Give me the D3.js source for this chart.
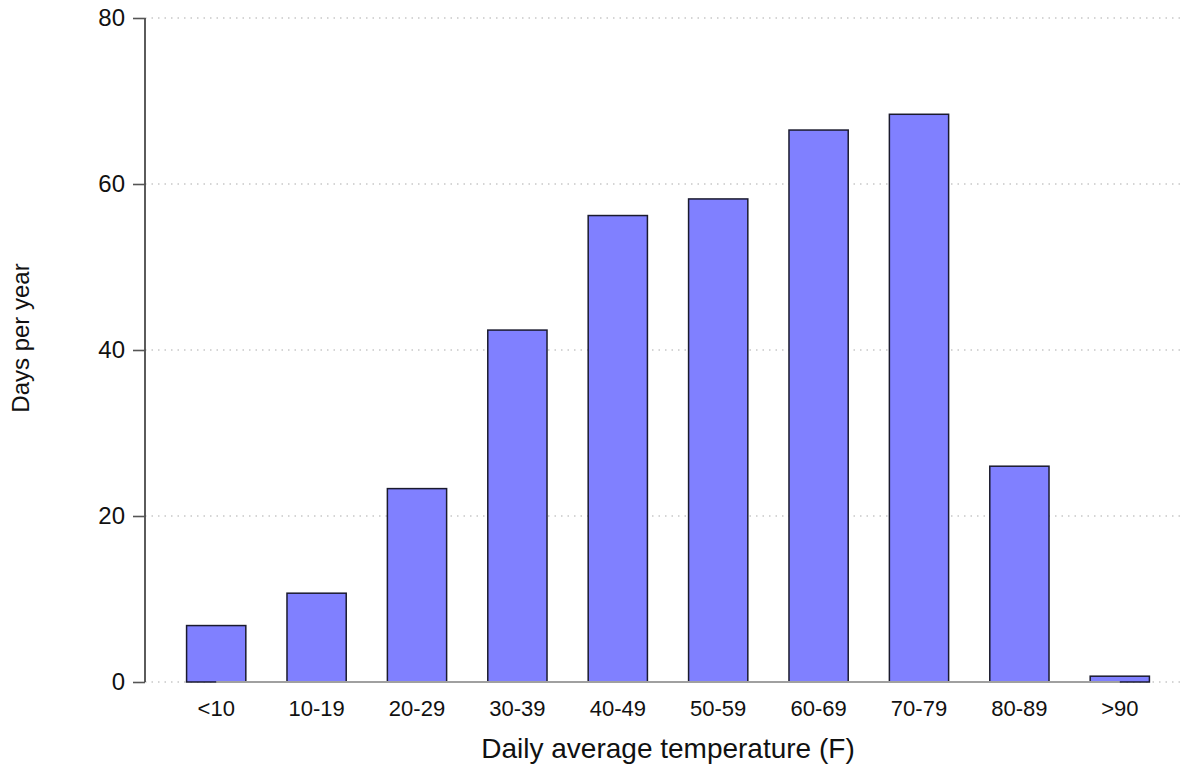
<!DOCTYPE html>
<html><head><meta charset="utf-8">
<script src="https://cdn.jsdelivr.net/npm/d3@7"></script>
<style>body{margin:0;background:#fff}svg{display:block}text{font-family:"Liberation Sans",Arial,sans-serif;fill:#111}</style>
</head><body>
<svg id="c" width="1188" height="769"></svg>
<script>
const categories = ["<10","10-19","20-29","30-39","40-49","50-59","60-69","70-79","80-89",">90"];
const values = [6.8, 10.7, 23.3, 42.4, 56.2, 58.2, 66.5, 68.4, 26.0, 0.7];
const yTicks = [0, 20, 40, 60, 80];

(function () {
const svg = d3.select("#c");
const mLeft = 145, mRight = 1184, mTop = 18, mBottom = 682;
const x = d3.scaleBand().domain(categories).range([166, 1170]).paddingInner(0.41).paddingOuter(0.205);
const y = d3.scaleLinear().domain([0, 80]).range([mBottom, mTop]);

// gridlines
svg.append("g").selectAll("line").data(yTicks).join("line")
  .attr("x1", mLeft).attr("x2", mRight).attr("y1", d => y(d)).attr("y2", d => y(d))
  .attr("stroke", "#c8c8c8").attr("stroke-width", 1.3).attr("stroke-dasharray", "1.5,5");

// bars
svg.append("g").selectAll("rect").data(values).join("rect")
  .attr("x", (d, i) => x(categories[i])).attr("width", x.bandwidth())
  .attr("y", d => y(d)).attr("height", d => y(0) - y(d))
  .attr("fill", "#8080ff").attr("stroke", "#1a1a2e").attr("stroke-width", 1.5);

// x axis line from first to last category centre
const c0 = x(categories[0]) + x.bandwidth() / 2, c1 = x(categories[categories.length - 1]) + x.bandwidth() / 2;
svg.append("line").attr("x1", c0).attr("x2", c1).attr("y1", mBottom).attr("y2", mBottom)
  .attr("stroke", "#a0a0a0").attr("stroke-width", 2);

// y axis
const yAxis = d3.axisLeft(y).tickValues(yTicks).tickSize(12).tickPadding(8);
const gy = svg.append("g").attr("transform", `translate(${mLeft},0)`).call(yAxis);
gy.select(".domain").attr("stroke", "#333").attr("stroke-width", 1.6).attr("d", `M0,${mTop}V${mBottom}`);
gy.selectAll(".tick line").attr("stroke", "#555").attr("stroke-width", 1.6);
gy.selectAll(".tick text").style("font-size", "24px").attr("fill", "#111").attr("font-family", '"Liberation Sans",Arial,sans-serif');

// x labels
const xAxis = d3.axisBottom(x).tickSize(0).tickPadding(18);
const gx = svg.append("g").attr("transform", `translate(0,${mBottom})`).call(xAxis);
gx.select(".domain").remove();
gx.selectAll(".tick text").style("font-size", "22px").attr("fill", "#111").attr("font-family", '"Liberation Sans",Arial,sans-serif');

// titles
svg.append("text").attr("x", 668).attr("y", 758).attr("text-anchor", "middle").style("font-size", "28px").text("Daily average temperature (F)");
svg.append("text").attr("transform", "translate(29,338) rotate(-90)").attr("text-anchor", "middle").style("font-size", "24px").text("Days per year");
})();
</script>
</body></html>
